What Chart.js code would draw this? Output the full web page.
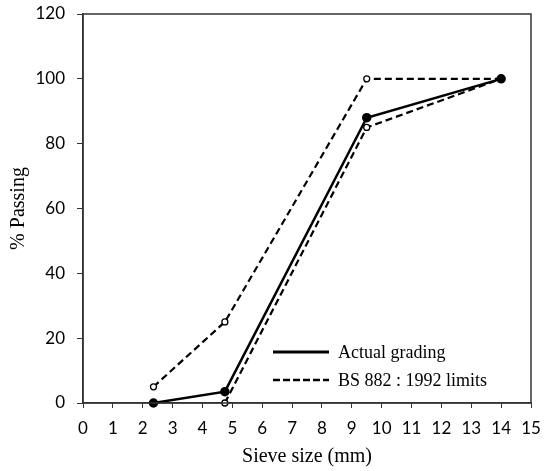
<!DOCTYPE html>
<html>
<head>
<meta charset="utf-8">
<script src="https://cdn.jsdelivr.net/npm/chart.js@4.4.1/dist/chart.umd.min.js"></script>
<style>
  html, body { margin: 0; padding: 0; background: #fff; }
  #wrap { width: 547px; height: 471px; }
</style>
</head>
<body>
<div id="wrap"><canvas id="chart-grading"></canvas></div>
<script>
// sieve sizes in mm, % passing
const sieveSizes = [2.36, 4.75, 9.5, 14];
const actualPassing = [0, 3.5, 88, 100];
const upperLimit = [5, 25, 100, 100];
const lowerSizes = [4.75, 9.5, 14];
const lowerLimit = [0, 85, 100];
const xTicks = [0, 1, 2, 3, 4, 5, 6, 7, 8, 9, 10, 11, 12, 13, 14, 15];
const yTicks = [0, 20, 40, 60, 80, 100, 120];
const legendLabels = ['Actual grading', 'BS 882 : 1992 limits'];

const pts = (xs, ys) => xs.map((x, i) => ({ x: x, y: ys[i] }));

// box round the plot + legend inside bottom right
const framePlugin = {
    id: 'frame',
    afterDraw(chart) {
        const { ctx, chartArea: a } = chart;
        ctx.save();
        ctx.strokeStyle = '#333';
        ctx.lineWidth = 1.5;
        ctx.strokeRect(a.left, a.top, a.right - a.left, a.bottom - a.top);

        ctx.font = '18px "Liberation Serif", "Times New Roman", serif';
        ctx.fillStyle = '#000';
        ctx.textBaseline = 'middle';
        const x0 = a.left + 190, x1 = a.left + 246, tx = a.left + 255;
        const rows = [a.bottom - 51, a.bottom - 23];
        ctx.strokeStyle = '#000';
        ctx.lineWidth = 3;
        ctx.beginPath();
        ctx.moveTo(x0, rows[0]); ctx.lineTo(x1, rows[0]);
        ctx.stroke();
        ctx.fillText(legendLabels[0], tx, rows[0] + 1);
        ctx.lineWidth = 2.5;
        ctx.setLineDash([7, 3]);
        ctx.beginPath();
        ctx.moveTo(x0, rows[1]); ctx.lineTo(x1, rows[1]);
        ctx.stroke();
        ctx.setLineDash([]);
        ctx.fillText(legendLabels[1], tx, rows[1] + 1);
        ctx.restore();
    }
};

const dashed = {
    borderColor: '#000',
    borderWidth: 2.2,
    borderDash: [7, 4],
    pointRadius: 3,
    pointBackgroundColor: '#fff',
    pointBorderColor: '#000',
    pointBorderWidth: 1.3,
    tension: 0,
    clip: false,
};

new Chart(document.getElementById('chart-grading'), {
    type: 'line',
    data: {
        datasets: [
            {
                label: legendLabels[0],
                data: pts(sieveSizes, actualPassing),
                borderColor: '#000',
                borderWidth: 2.5,
                pointRadius: 3.5,
                pointBackgroundColor: '#000',
                pointBorderColor: '#000',
                tension: 0,
                clip: false,
            },
            Object.assign({ label: 'upper', data: pts(sieveSizes, upperLimit) }, dashed),
            Object.assign({ label: 'lower', data: pts(lowerSizes, lowerLimit) }, dashed),
        ],
    },
    options: {
        responsive: true,
        maintainAspectRatio: false,
        animation: false,
        layout: { padding: { top: 14, right: 16, left: 3, bottom: 0 } },
        plugins: { legend: { display: false }, tooltip: { enabled: false } },
        scales: {
            x: {
                type: 'linear',
                min: 0,
                max: 15,
                afterBuildTicks: s => { s.ticks = xTicks.map(v => ({ value: v })); },
                afterFit: s => { s.height = 68; s.paddingRight = 0; },
                grid: { drawOnChartArea: false, color: '#333', tickLength: 5 },
                border: { color: '#333', width: 1.5 },
                ticks: {
                    color: '#000',
                    padding: 10,
                    maxRotation: 0,
                    autoSkip: false,
                    font: { family: 'Lato, "Liberation Sans", sans-serif', size: 17 },
                },
                title: {
                    display: true,
                    text: 'Sieve size (mm)',
                    color: '#000',
                    padding: { top: 0, bottom: 2 },
                    font: { family: '"Liberation Serif", "Times New Roman", serif', size: 20 },
                },
            },
            y: {
                min: 0,
                max: 120,
                afterBuildTicks: s => { s.ticks = yTicks.map(v => ({ value: v })); },
                afterFit: s => { s.width = 80; s.paddingTop = 0; },
                grid: { drawOnChartArea: false, color: '#333', tickLength: 6 },
                border: { color: '#333', width: 1.5 },
                ticks: {
                    color: '#000',
                    padding: 12,
                    font: { family: 'Lato, "Liberation Sans", sans-serif', size: 17 },
                },
                title: {
                    display: true,
                    text: '% Passing',
                    color: '#000',
                    padding: { bottom: 10 },
                    font: { family: '"Liberation Serif", "Times New Roman", serif', size: 20 },
                },
            },
        },
    },
    plugins: [framePlugin],
});
</script>
</body>
</html>
